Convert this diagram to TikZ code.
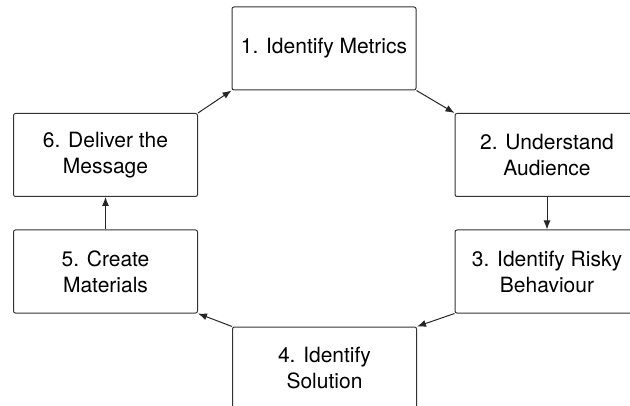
\documentclass[tikz,border=0pt]{standalone}
\usepackage{fontspec}
\setmainfont{TeX Gyre Heros}
\usetikzlibrary{arrows.meta}
\tikzset{
    stepbox/.style={draw=black!80,line width=1pt,rounded corners=2pt,fill=white,
        minimum width=184pt,minimum height=83pt,inner sep=0pt,align=center,
        font=\fontsize{21}{26}\selectfont},
    flow/.style={draw=black!85,line width=1pt,-{Latex[length=9pt,width=7pt]}}
}
\begin{document}
\begin{tikzpicture}[x=1pt,y=1pt]
    \useasboundingbox (0,0) rectangle (630,405);
    \clip (0,0) rectangle (630,405);
    \node[stepbox] (metrics) at (324,356.5) {1. Identify Metrics};
    \node[stepbox] (audience) at (547,250) {2. Understand\\Audience};
    \node[stepbox] (risky) at (547,133.5) {3. Identify Risky\\Behaviour};
    \node[stepbox] (solution) at (324.5,36.5) {4. Identify\\Solution};
    \node[stepbox] (materials) at (105.5,133.5) {5. Create\\Materials};
    \node[stepbox] (message) at (105.5,250) {6. Deliver the\\Message};
    \draw[flow] (metrics.south east) -- (audience.north west);
    \draw[flow] (audience) -- (risky);
    \draw[flow] (risky.south west) -- (solution.north east);
    \draw[flow] (solution.north west) -- (materials.south east);
    \draw[flow] (materials) -- (message);
    \draw[flow] (message.north east) -- (metrics.south west);
\end{tikzpicture}
\end{document}
